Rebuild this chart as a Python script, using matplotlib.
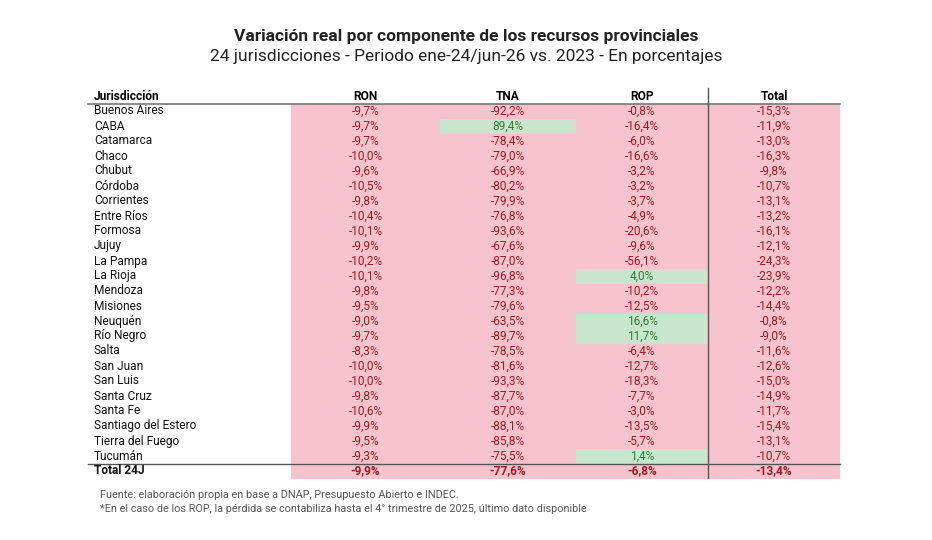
import matplotlib
matplotlib.use("Agg")
import matplotlib.pyplot as plt
from matplotlib.patches import Rectangle

plt.rcParams['font.family'] = ['Roboto', 'DejaVu Sans']

# Datos
jurisdicciones = ["Buenos Aires", "CABA", "Catamarca", "Chaco", "Chubut", "Córdoba",
                  "Corrientes", "Entre Ríos", "Formosa", "Jujuy", "La Pampa", "La Rioja",
                  "Mendoza", "Misiones", "Neuquén", "Río Negro", "Salta", "San Juan",
                  "San Luis", "Santa Cruz", "Santa Fe", "Santiago del Estero",
                  "Tierra del Fuego", "Tucumán"]
ron = [-9.7, -9.7, -9.7, -10.0, -9.6, -10.5, -9.8, -10.4, -10.1, -9.9, -10.2, -10.1,
       -9.8, -9.5, -9.0, -9.7, -8.3, -10.0, -10.0, -9.8, -10.6, -9.9, -9.5, -9.3]
tna = [-92.2, 89.4, -78.4, -79.0, -66.9, -80.2, -79.9, -76.8, -93.6, -67.6, -87.0, -96.8,
       -77.3, -79.6, -63.5, -89.7, -78.5, -81.6, -93.3, -87.7, -87.0, -88.1, -85.8, -75.5]
rop = [-0.8, -16.4, -6.0, -16.6, -3.2, -3.2, -3.7, -4.9, -20.6, -9.6, -56.1, 4.0,
       -10.2, -12.5, 16.6, 11.7, -6.4, -12.7, -18.3, -7.7, -3.0, -13.5, -5.7, 1.4]
total = [-15.3, -11.9, -13.0, -16.3, -9.8, -10.7, -13.1, -13.2, -16.1, -12.1, -24.3, -23.9,
         -12.2, -14.4, -0.8, -9.0, -11.6, -12.6, -15.0, -14.9, -11.7, -15.4, -13.1, -10.7]
total_24j = [-9.9, -77.6, -6.8, -13.4]
columnas = ["RON", "TNA", "ROP", "Total"]

PINK = "#f7c4ce"
GREEN = "#c8e6cb"
RED_TXT = "#9e1b22"
GREEN_TXT = "#2f7d3a"

# columnas: (izq, der)
col_edges = [(291, 440), (440, 576), (576, 708), (708, 840)]
y0, dy = 111, 15.0
FS = 8.6


def fmt(v):
    return f"{v:.1f}%".replace(".", ",")


fig = plt.figure(figsize=(9.32, 5.40), dpi=100)
ax = fig.add_axes([0, 0, 1, 1])
ax.set_xlim(0, 932)
ax.set_ylim(540, 0)
ax.axis("off")

fig.text(0.5, 1 - 36 / 540, "Variación real por componente de los recursos provinciales",
         ha="center", va="center", fontsize=12.5, fontweight="bold", color="#222222")
fig.text(0.5, 1 - 57 / 540, "24 jurisdicciones - Periodo ene-24/jun-26 vs. 2023 - En porcentajes",
         ha="center", va="center", fontsize=12.5, color="#222222")

# encabezado
ax.text(94, 96, "Jurisdicción", ha="left", va="center", fontsize=FS, fontweight="bold")
for (l, r), name in zip(col_edges, columnas):
    ax.text((l + r) / 2, 96, name, ha="center", va="center", fontsize=FS, fontweight="bold")

series = [ron, tna, rop, total]
rows = list(zip(*series))
for i, name in enumerate(jurisdicciones + ["Total 24J"]):
    y = y0 + i * dy
    vals = rows[i] if i < len(jurisdicciones) else total_24j
    bold = i == len(jurisdicciones)
    ax.text(94, y, name, ha="left", va="center", fontsize=FS,
            fontweight="bold" if bold else "normal", color="#111111")
    for (l, r), v in zip(col_edges, vals):
        ax.add_patch(Rectangle((l, y - dy / 2), r - l, dy,
                               facecolor=GREEN if v > 0 else PINK, edgecolor="none", zorder=0))
        ax.text((l + r) / 2, y, fmt(v), ha="center", va="center", fontsize=FS,
                fontweight="bold" if bold else "normal",
                color=GREEN_TXT if v > 0 else RED_TXT)

ax.plot([88, 840], [103.5, 103.5], color="#777777", lw=1.2)
ax.plot([88, 840], [463.5, 463.5], color="#555555", lw=1)
ax.plot([708, 708], [88, 478], color="#555555", lw=1)

ax.text(100, 495, "Fuente: elaboración propia en base a DNAP, Presupuesto Abierto e INDEC.",
        ha="left", va="center", fontsize=7.8, color="#555555")
ax.text(100, 509, "*En el caso de los ROP, la pérdida se contabiliza hasta el 4° trimestre de 2025, último dato disponible",
        ha="left", va="center", fontsize=7.8, color="#555555")

fig.savefig("out.png", dpi=100, facecolor="white")
